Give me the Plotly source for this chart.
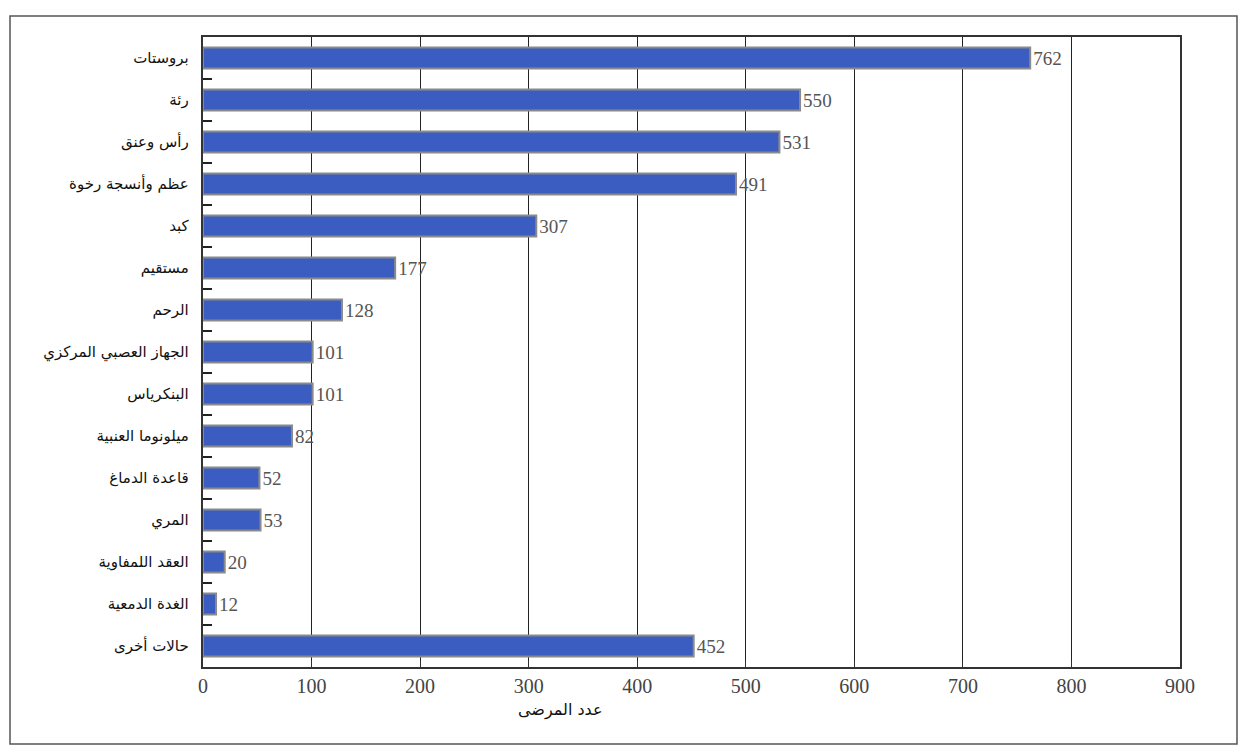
import plotly.graph_objects as go

categories = ["بروستات", "رئة", "رأس وعنق", "عظم وأنسجة رخوة", "كبد", "مستقيم", "الرحم",
              "الجهاز العصبي المركزي", "البنكرياس", "ميلونوما العنبية", "قاعدة الدماغ",
              "المري", "العقد اللمفاوية", "الغدة الدمعية", "حالات أخرى"]
patients = [762, 550, 531, 491, 307, 177, 128, 101, 101, 82, 52, 53, 20, 12, 452]
x_ticks = [0, 100, 200, 300, 400, 500, 600, 700, 800, 900]
x_title = "عدد المرضى"

W, H = 1240, 747
L, R, T, B = 203, 60, 37, 80
pw, ph = W - L - R, H - T - B

n = len(categories)
boundaries = [i + 0.5 for i in range(n - 1)]

fig = go.Figure()
fig.add_trace(go.Bar(
    y=categories, x=patients, orientation="h", width=0.5,
    marker=dict(color="#3b5cc0", line=dict(color="#8a8a8a", width=2)),
    text=[str(v) for v in patients], textposition="outside", cliponaxis=False,
    textfont=dict(family="Liberation Serif", size=20, color="#555555"),
))
# invisible helper trace for the boundary tick axis
fig.add_trace(go.Scatter(x=[0, 0], y=[0, n - 1], yaxis="y2", mode="markers",
                         marker=dict(opacity=0), hoverinfo="skip", showlegend=False))

fig.update_layout(
    width=W, height=H, margin=dict(l=L, r=R, t=T, b=B),
    paper_bgcolor="white", plot_bgcolor="white", showlegend=False,
    xaxis=dict(range=[0, 900], tickvals=x_ticks, showgrid=True, gridcolor="#222222", gridwidth=1,
               showline=True, linecolor="#333333", linewidth=1.5, mirror=True, zeroline=False,
               ticks="inside", ticklen=6, tickcolor="#333333",
               tickfont=dict(family="Liberation Serif", size=20, color="#444444")),
    yaxis=dict(range=[n - 0.5, -0.5], showline=True, linecolor="#333333", linewidth=1.5, mirror=True,
               ticks="", tickfont=dict(family="DejaVu Sans", size=15, color="#111111"),
               ticksuffix="  "),
    yaxis2=dict(overlaying="y", side="left", anchor="x", range=[n - 0.5, -0.5], tickmode="array",
                tickvals=boundaries, ticktext=["" for _ in boundaries],
                showticklabels=True, ticks="inside", ticklen=9, tickwidth=2, tickcolor="#222222",
                showgrid=False, zeroline=False, showline=False),
    bargap=0.5,
)

fig.add_annotation(text=x_title, xref="paper", yref="paper",
                   x=(560 - L) / pw, y=-(722 - T - ph) / ph, showarrow=False,
                   font=dict(family="DejaVu Sans", size=16, color="#111111"))

# outer frame
fig.add_shape(type="rect", xref="paper", yref="paper",
              x0=(10 - L) / pw, x1=(1237 - L) / pw,
              y0=1 - (744 - T) / ph, y1=1 - (16 - T) / ph,
              line=dict(color="#555555", width=1.5), fillcolor="rgba(0,0,0,0)", layer="below")

fig.write_html("out.html")
